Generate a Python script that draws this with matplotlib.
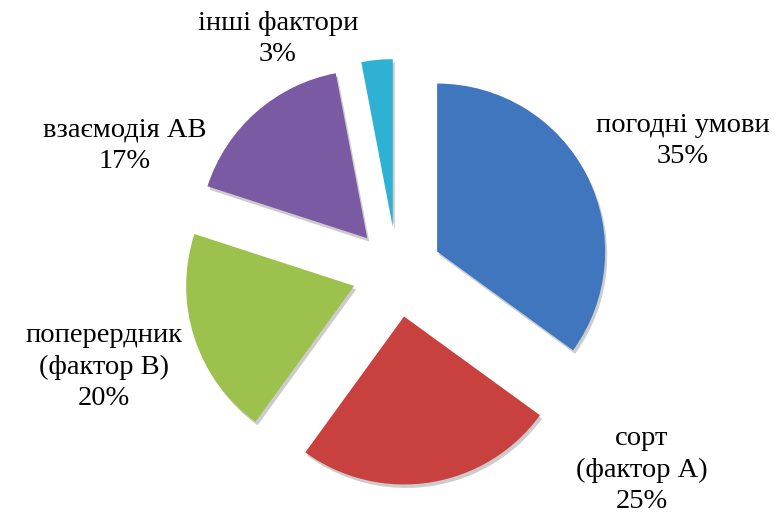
import matplotlib.pyplot as plt
import matplotlib.patheffects as pe

# data
labels = ["погодні умови", "сорт\n(фактор А)", "поперердник\n(фактор В)", "взаємодія АВ", "інші фактори"]
shares = [35, 25, 20, 17, 3]
colors = ["#3f76bd", "#c9413e", "#9cc14c", "#7b5aa4", "#2fb1d4"]

# label centres in pixels (from top-left), pie centre and radius in pixels
label_px = [(683, 141), (642, 470), (104, 367), (125, 146), (278, 39)]
cx, cy, rad = 397, 272, 168
W, H = 777, 518

plt.rcParams["font.family"] = ["Liberation Serif", "DejaVu Serif"]

fig = plt.figure(figsize=(W / 100, H / 100), dpi=100)
ax = fig.add_axes([0, 0, 1, 1])

wedges, _ = ax.pie(
    shares,
    colors=colors,
    startangle=90,
    counterclock=False,
    explode=[0.268] * len(shares),
    radius=1,
    wedgeprops=dict(linewidth=0.8, edgecolor="none"),
)
for w in wedges:
    w.set_path_effects([
        pe.SimplePatchShadow(offset=(1.5, -2.5), shadow_rgbFace="black", alpha=0.2),
        pe.Normal(),
    ])

ax.set_aspect("auto")
ax.set_xlim(-cx / rad, (W - cx) / rad)
ax.set_ylim(-(H - cy) / rad, cy / rad)
ax.axis("off")

for lab, val, (px, py) in zip(labels, shares, label_px):
    ax.text((px - cx) / rad, (cy - py) / rad, f"{lab}\n{val}%",
            ha="center", va="center", fontsize=20.5, linespacing=1.32, color="black")

fig.savefig("out.png", dpi=100)
